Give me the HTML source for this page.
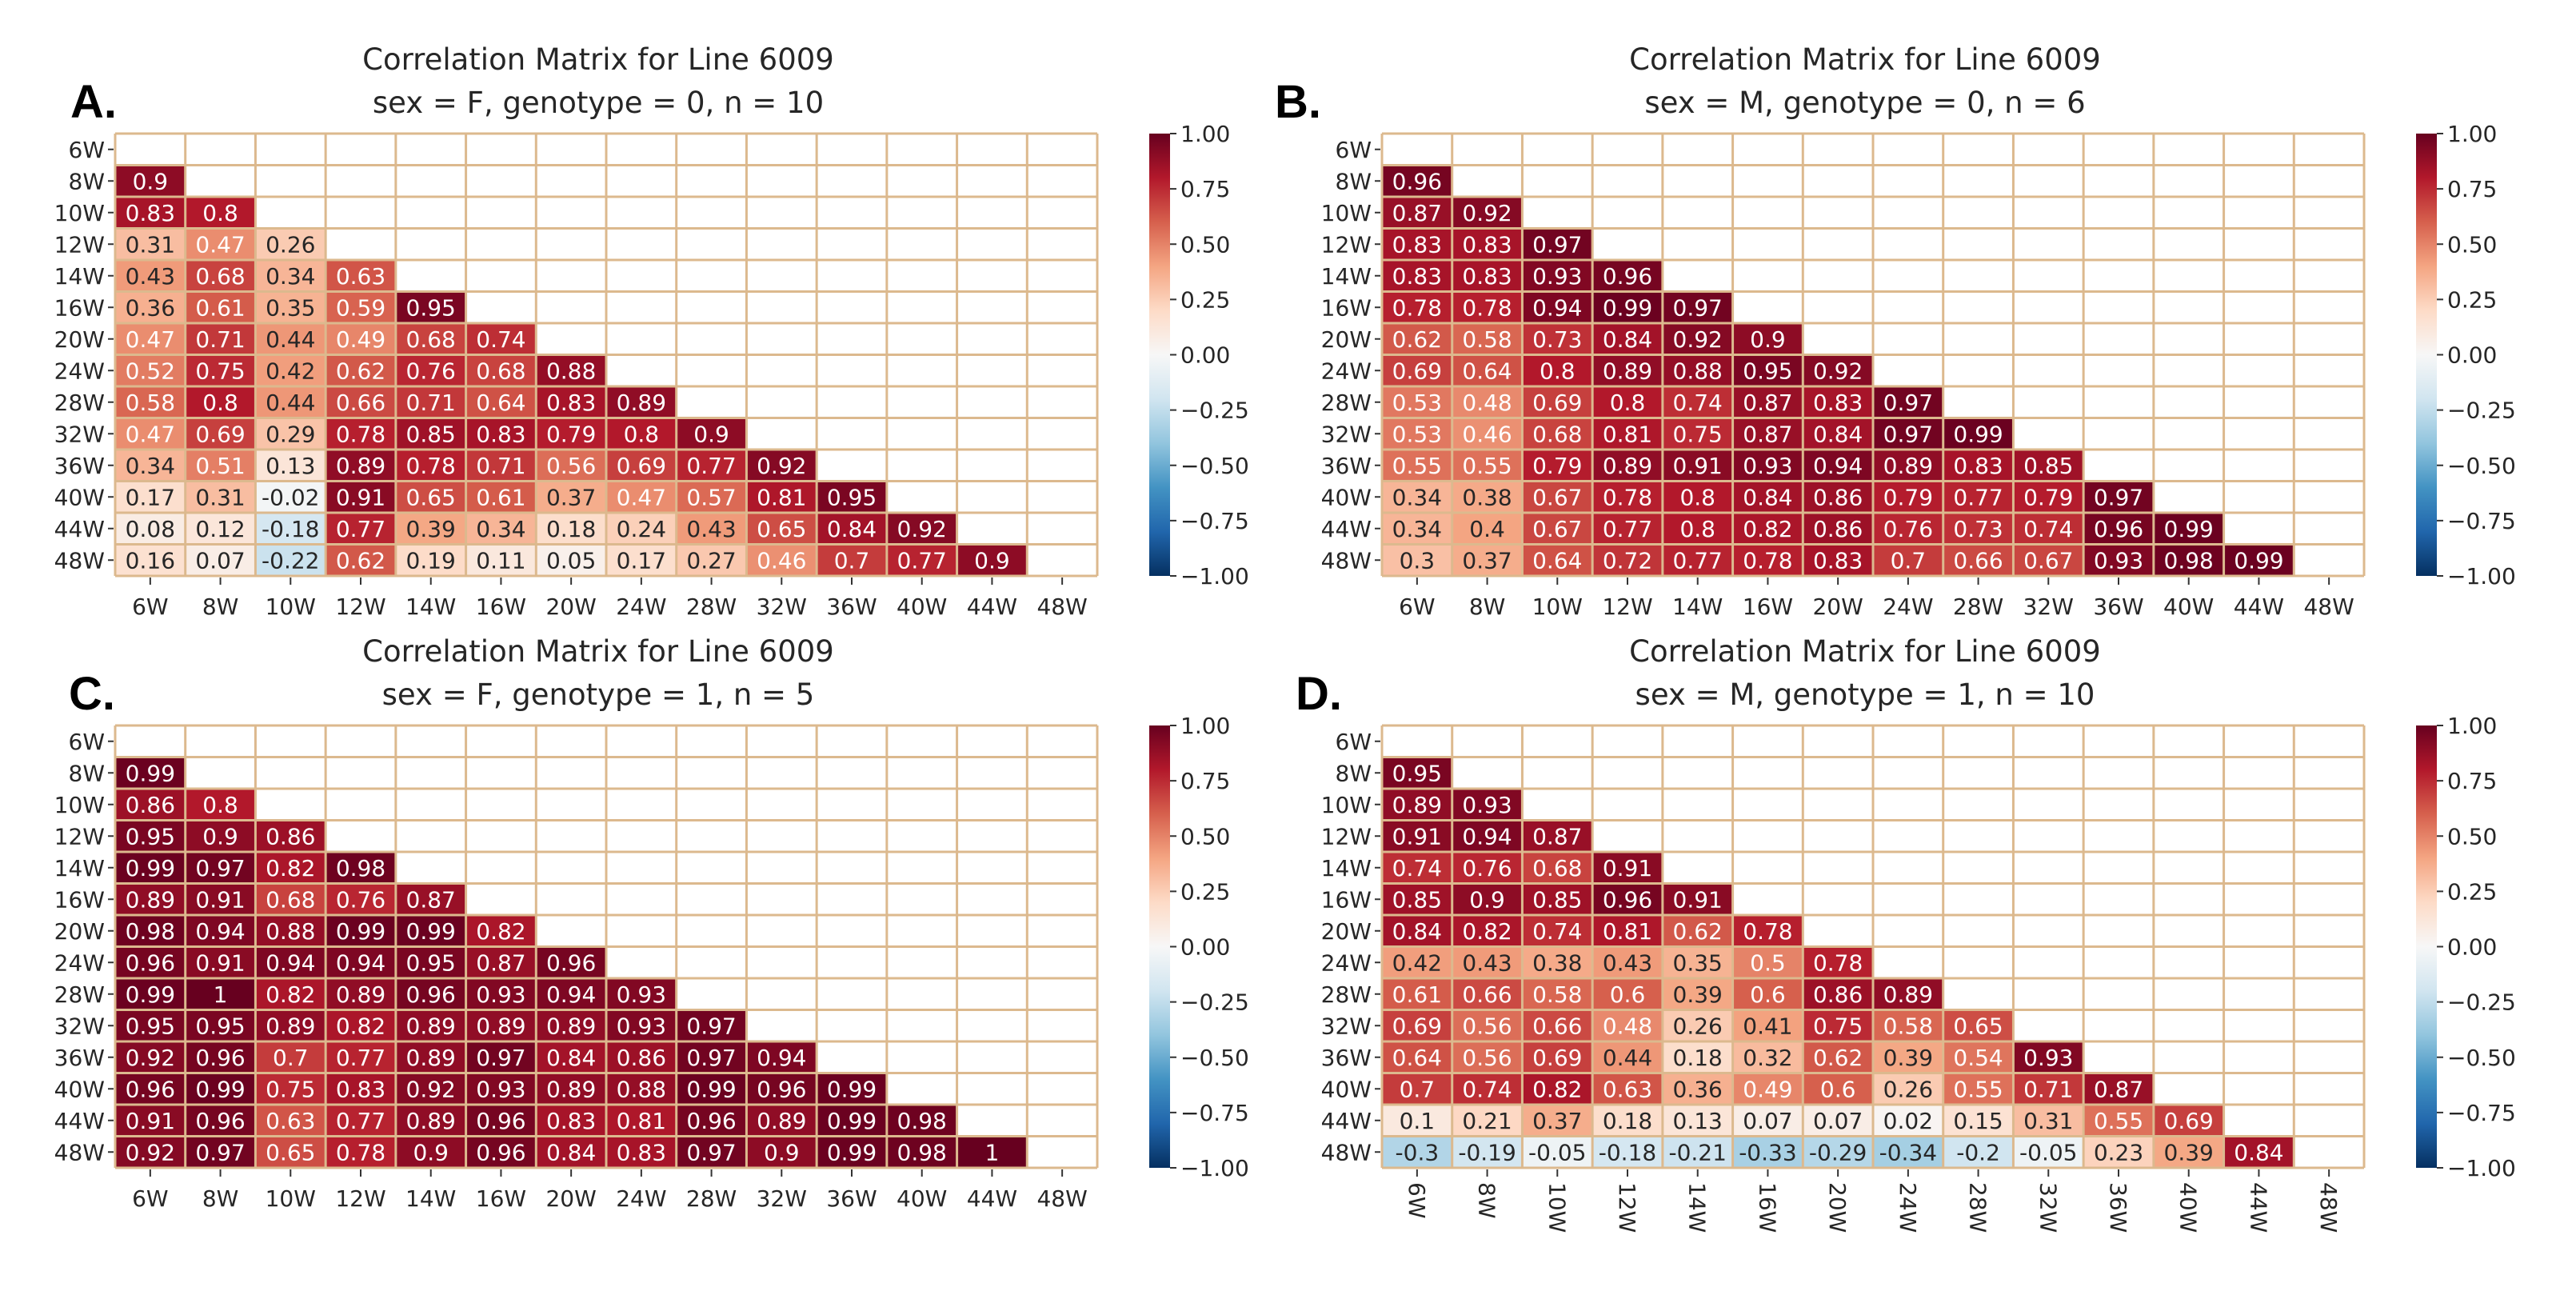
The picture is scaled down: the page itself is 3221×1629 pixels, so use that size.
<!DOCTYPE html>
<html><head><meta charset="utf-8"><style>
html,body{margin:0;padding:0;background:#fff}
svg{display:block;font-family:"DejaVu Sans","Liberation Sans",sans-serif}
</style></head><body>
<svg id="fig" width="3221" height="1629" viewBox="0 0 3221 1629" xmlns="http://www.w3.org/2000/svg">
<defs>
<linearGradient id="cbgrad" x1="0" y1="1" x2="0" y2="0">
<stop offset="0" stop-color="#053061"/><stop offset="0.1" stop-color="#2166ac"/><stop offset="0.2" stop-color="#4393c3"/><stop offset="0.3" stop-color="#92c5de"/><stop offset="0.4" stop-color="#d1e5f0"/><stop offset="0.5" stop-color="#f7f7f7"/><stop offset="0.6" stop-color="#fddbc7"/><stop offset="0.7" stop-color="#f4a582"/><stop offset="0.8" stop-color="#d6604d"/><stop offset="0.9" stop-color="#b2182b"/><stop offset="1" stop-color="#67001f"/>
</linearGradient>
</defs>
</svg>
<script>
const weeks = ["6W","8W","10W","12W","14W","16W","20W","24W","28W","32W","36W","40W","44W","48W"];
const cbTicks = [1.00,0.75,0.50,0.25,0.00,-0.25,-0.50,-0.75,-1.00];
const matA = [[0.9],[0.83,0.8],[0.31,0.47,0.26],[0.43,0.68,0.34,0.63],[0.36,0.61,0.35,0.59,0.95],[0.47,0.71,0.44,0.49,0.68,0.74],[0.52,0.75,0.42,0.62,0.76,0.68,0.88],[0.58,0.8,0.44,0.66,0.71,0.64,0.83,0.89],[0.47,0.69,0.29,0.78,0.85,0.83,0.79,0.8,0.9],[0.34,0.51,0.13,0.89,0.78,0.71,0.56,0.69,0.77,0.92],[0.17,0.31,-0.02,0.91,0.65,0.61,0.37,0.47,0.57,0.81,0.95],[0.08,0.12,-0.18,0.77,0.39,0.34,0.18,0.24,0.43,0.65,0.84,0.92],[0.16,0.07,-0.22,0.62,0.19,0.11,0.05,0.17,0.27,0.46,0.7,0.77,0.9]];
const matB = [[0.96],[0.87,0.92],[0.83,0.83,0.97],[0.83,0.83,0.93,0.96],[0.78,0.78,0.94,0.99,0.97],[0.62,0.58,0.73,0.84,0.92,0.9],[0.69,0.64,0.8,0.89,0.88,0.95,0.92],[0.53,0.48,0.69,0.8,0.74,0.87,0.83,0.97],[0.53,0.46,0.68,0.81,0.75,0.87,0.84,0.97,0.99],[0.55,0.55,0.79,0.89,0.91,0.93,0.94,0.89,0.83,0.85],[0.34,0.38,0.67,0.78,0.8,0.84,0.86,0.79,0.77,0.79,0.97],[0.34,0.4,0.67,0.77,0.8,0.82,0.86,0.76,0.73,0.74,0.96,0.99],[0.3,0.37,0.64,0.72,0.77,0.78,0.83,0.7,0.66,0.67,0.93,0.98,0.99]];
const matC = [[0.99],[0.86,0.8],[0.95,0.9,0.86],[0.99,0.97,0.82,0.98],[0.89,0.91,0.68,0.76,0.87],[0.98,0.94,0.88,0.99,0.99,0.82],[0.96,0.91,0.94,0.94,0.95,0.87,0.96],[0.99,1,0.82,0.89,0.96,0.93,0.94,0.93],[0.95,0.95,0.89,0.82,0.89,0.89,0.89,0.93,0.97],[0.92,0.96,0.7,0.77,0.89,0.97,0.84,0.86,0.97,0.94],[0.96,0.99,0.75,0.83,0.92,0.93,0.89,0.88,0.99,0.96,0.99],[0.91,0.96,0.63,0.77,0.89,0.96,0.83,0.81,0.96,0.89,0.99,0.98],[0.92,0.97,0.65,0.78,0.9,0.96,0.84,0.83,0.97,0.9,0.99,0.98,1]];
const matD = [[0.95],[0.89,0.93],[0.91,0.94,0.87],[0.74,0.76,0.68,0.91],[0.85,0.9,0.85,0.96,0.91],[0.84,0.82,0.74,0.81,0.62,0.78],[0.42,0.43,0.38,0.43,0.35,0.5,0.78],[0.61,0.66,0.58,0.6,0.39,0.6,0.86,0.89],[0.69,0.56,0.66,0.48,0.26,0.41,0.75,0.58,0.65],[0.64,0.56,0.69,0.44,0.18,0.32,0.62,0.39,0.54,0.93],[0.7,0.74,0.82,0.63,0.36,0.49,0.6,0.26,0.55,0.71,0.87],[0.1,0.21,0.37,0.18,0.13,0.07,0.07,0.02,0.15,0.31,0.55,0.69],[-0.3,-0.19,-0.05,-0.18,-0.21,-0.33,-0.29,-0.34,-0.2,-0.05,0.23,0.39,0.84]];

const stops = ["#053061","#2166ac","#4393c3","#92c5de","#d1e5f0","#f7f7f7","#fddbc7","#f4a582","#d6604d","#b2182b","#67001f"].map(h=>[1,3,5].map(i=>parseInt(h.substr(i,2),16)));
function cmap(v){
  let t=(Math.max(-1,Math.min(1,v))+1)/2*10; let i=Math.min(9,Math.floor(t)); let f=t-i;
  return stops[i].map((c,k)=>c+(stops[i+1][k]-c)*f);
}
function lum(rgb){
  const c=rgb.map(x=>{x/=255;return x<=0.03928?x/12.92:Math.pow((x+0.055)/1.055,2.4);});
  return 0.2126*c[0]+0.7152*c[1]+0.0722*c[2];
}
const NS="http://www.w3.org/2000/svg";
const svg=document.getElementById('fig');
function mk(tag,attrs,parent){const e=document.createElementNS(NS,tag);for(const k in attrs)e.setAttribute(k,attrs[k]);(parent||svg).appendChild(e);return e;}
function fmt(v){return String(Number(v.toPrecision(2)));}

const panels=[
 {id:"a",letter:"A.",sub:"sex = F, genotype = 0, n = 10",m:matA,x0:144,y0:167,rot:false,lx:88},
 {id:"b",letter:"B.",sub:"sex = M, genotype = 0, n = 6",m:matB,x0:1728,y0:167,rot:false,lx:1594},
 {id:"c",letter:"C.",sub:"sex = F, genotype = 1, n = 5",m:matC,x0:144,y0:907,rot:false,lx:86},
 {id:"d",letter:"D.",sub:"sex = M, genotype = 1, n = 10",m:matD,x0:1728,y0:907,rot:true,lx:1620}
];
const GW=1228, GH=553, N=weeks.length;
panels.forEach(p=>{
  const g=mk('g',{});
  
  
  const cw=GW/N, ch=GH/N;
  const xs=i=>p.x0+i*cw, ys=j=>p.y0+j*ch;
  const cx=p.x0+GW/2-10;
  let t=mk('text',{x:cx,y:p.y0-80,'text-anchor':'middle','font-size':37,fill:'#262626'},g);t.textContent="Correlation Matrix for Line 6009";
  
  t=mk('text',{x:cx,y:p.y0-26,'text-anchor':'middle','font-size':37,fill:'#262626'},g);t.textContent=p.sub;
  
  t=mk('text',{x:p.lx,y:p.y0-20,'font-size':58,'font-weight':'bold',fill:'#000','font-family':'Liberation Sans, sans-serif'},g);t.textContent=p.letter;
  
  mk('rect',{x:p.x0,y:p.y0,width:GW,height:GH,fill:'#fff'},g);
  p.m.forEach((row,r)=>{row.forEach((v,c)=>{
    const j=r+1; const rgb=cmap(v);
    const rc=mk('rect',{x:xs(c),y:ys(j),width:cw,height:ch,fill:`rgb(${rgb.map(Math.round).join(',')})`},g);
    
    
    const tx=mk('text',{x:xs(c)+cw/2,y:ys(j)+ch/2+10,'text-anchor':'middle','font-size':28,fill:lum(rgb)>0.408?'#262626':'#ffffff'},g);
    tx.textContent=fmt(v);
    
    
  });});
  for(let i=0;i<=N;i++){
    mk('line',{x1:xs(i),y1:p.y0,x2:xs(i),y2:p.y0+GH,stroke:'#dcb98e','stroke-width':3},g);
    mk('line',{x1:p.x0,y1:ys(i),x2:p.x0+GW,y2:ys(i),stroke:'#dcb98e','stroke-width':3},g);
  }
  weeks.forEach((w,i)=>{
    mk('line',{x1:p.x0-9,y1:ys(i)+ch/2,x2:p.x0-2,y2:ys(i)+ch/2,stroke:'#333','stroke-width':2},g);
    const l=mk('text',{x:p.x0-13,y:ys(i)+ch/2+10,'text-anchor':'end','font-size':28,fill:'#262626'},g);l.textContent=w;
    
  });
  weeks.forEach((w,i)=>{
    const x=xs(i)+cw/2;
    mk('line',{x1:x,y1:p.y0+GH+2,x2:x,y2:p.y0+GH+11,stroke:'#333','stroke-width':2},g);
    let l;
    if(p.rot){l=mk('text',{x:0,y:0,transform:`translate(${x-10},${p.y0+GH+18}) rotate(90)`,'font-size':28,fill:'#262626'},g);}
    else{l=mk('text',{x:x,y:p.y0+GH+48,'text-anchor':'middle','font-size':28,fill:'#262626'},g);}
    l.textContent=w;
    
  });
  const cbx=p.x0+1293, cbw=26;
  const cb=mk('rect',{x:cbx,y:p.y0,width:cbw,height:GH,fill:'url(#cbgrad)'},g);
  
  cbTicks.forEach(v=>{
    const y=p.y0+(1-v)/2*GH;
    mk('line',{x1:cbx+cbw,y1:y,x2:cbx+cbw+8,y2:y,stroke:'#333','stroke-width':2},g);
    const l=mk('text',{x:cbx+cbw+13,y:y+10,'font-size':28,fill:'#262626'},g);
    l.textContent=(v<0?'\u2212':'')+Math.abs(v).toFixed(2);
    
  });
});
</script>
</body></html>
